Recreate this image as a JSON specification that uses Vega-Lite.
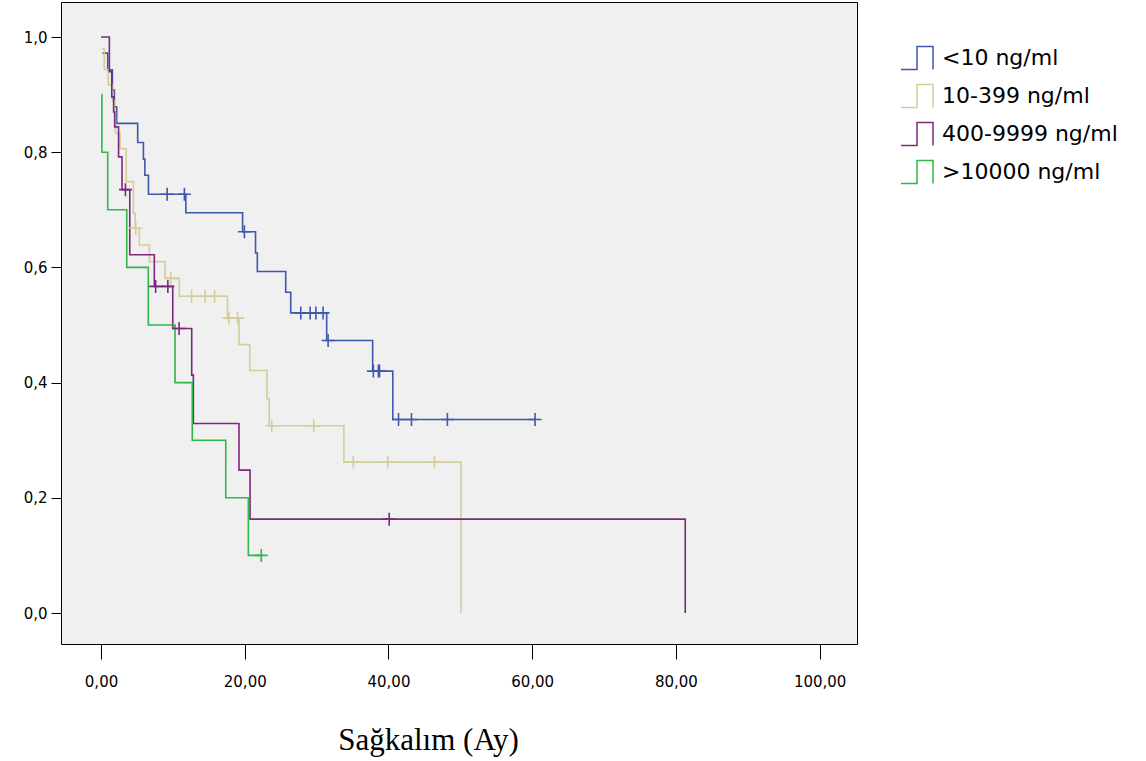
{
  "$schema": "https://vega.github.io/schema/vega-lite/v6.json",
  "width": 796,
  "height": 642,
  "autosize": {"type": "none"},
  "padding": {"left": 61, "top": 2, "right": 289, "bottom": 117},
  "background": "white",
  "config": {
    "view": {"fill": "#F0F0F0", "stroke": "#000000", "strokeWidth": 1},
    "axis": {"domain": false, "grid": false, "tickColor": "#000000", "labelColor": "#000000", "labelFont": "DejaVu Sans", "labelFontSize": 15, "tickWidth": 1}
  },
  "datasets": {
    "curves": [
      {"g": "<10 ng/ml", "t": 0.2, "s": 0.972},
      {"g": "<10 ng/ml", "t": 0.93, "s": 0.943},
      {"g": "<10 ng/ml", "t": 1.58, "s": 0.908},
      {"g": "<10 ng/ml", "t": 1.86, "s": 0.879},
      {"g": "<10 ng/ml", "t": 2.18, "s": 0.85},
      {"g": "<10 ng/ml", "t": 5.1, "s": 0.817},
      {"g": "<10 ng/ml", "t": 5.9, "s": 0.788},
      {"g": "<10 ng/ml", "t": 6.1, "s": 0.76},
      {"g": "<10 ng/ml", "t": 6.6, "s": 0.727},
      {"g": "<10 ng/ml", "t": 11.8, "s": 0.695},
      {"g": "<10 ng/ml", "t": 19.7, "s": 0.662},
      {"g": "<10 ng/ml", "t": 21.5, "s": 0.625},
      {"g": "<10 ng/ml", "t": 21.75, "s": 0.593},
      {"g": "<10 ng/ml", "t": 25.7, "s": 0.557},
      {"g": "<10 ng/ml", "t": 26.4, "s": 0.521},
      {"g": "<10 ng/ml", "t": 31.4, "s": 0.473},
      {"g": "<10 ng/ml", "t": 37.8, "s": 0.42},
      {"g": "<10 ng/ml", "t": 40.6, "s": 0.336},
      {"g": "<10 ng/ml", "t": 60.4, "s": 0.336},
      {"g": "10-399 ng/ml", "t": 0.1, "s": 0.98},
      {"g": "10-399 ng/ml", "t": 0.45, "s": 0.944},
      {"g": "10-399 ng/ml", "t": 1.0, "s": 0.917},
      {"g": "10-399 ng/ml", "t": 1.6, "s": 0.89},
      {"g": "10-399 ng/ml", "t": 1.85, "s": 0.868},
      {"g": "10-399 ng/ml", "t": 2.0, "s": 0.833},
      {"g": "10-399 ng/ml", "t": 2.64, "s": 0.806},
      {"g": "10-399 ng/ml", "t": 3.5, "s": 0.749},
      {"g": "10-399 ng/ml", "t": 4.5, "s": 0.694},
      {"g": "10-399 ng/ml", "t": 4.75, "s": 0.668},
      {"g": "10-399 ng/ml", "t": 5.33, "s": 0.639},
      {"g": "10-399 ng/ml", "t": 6.72, "s": 0.61},
      {"g": "10-399 ng/ml", "t": 8.9, "s": 0.581},
      {"g": "10-399 ng/ml", "t": 10.9, "s": 0.55},
      {"g": "10-399 ng/ml", "t": 17.6, "s": 0.512},
      {"g": "10-399 ng/ml", "t": 19.2, "s": 0.466},
      {"g": "10-399 ng/ml", "t": 20.7, "s": 0.421},
      {"g": "10-399 ng/ml", "t": 23.1, "s": 0.372},
      {"g": "10-399 ng/ml", "t": 23.4, "s": 0.325},
      {"g": "10-399 ng/ml", "t": 33.8, "s": 0.262},
      {"g": "10-399 ng/ml", "t": 50.1, "s": 0.0},
      {"g": "400-9999 ng/ml", "t": 0.0, "s": 1.0},
      {"g": "400-9999 ng/ml", "t": 1.16, "s": 0.94},
      {"g": "400-9999 ng/ml", "t": 1.49, "s": 0.896},
      {"g": "400-9999 ng/ml", "t": 1.75, "s": 0.87},
      {"g": "400-9999 ng/ml", "t": 1.9, "s": 0.844},
      {"g": "400-9999 ng/ml", "t": 2.44, "s": 0.792},
      {"g": "400-9999 ng/ml", "t": 2.92, "s": 0.735},
      {"g": "400-9999 ng/ml", "t": 4.0, "s": 0.622},
      {"g": "400-9999 ng/ml", "t": 7.42, "s": 0.567},
      {"g": "400-9999 ng/ml", "t": 9.98, "s": 0.494},
      {"g": "400-9999 ng/ml", "t": 12.62, "s": 0.413},
      {"g": "400-9999 ng/ml", "t": 12.85, "s": 0.329},
      {"g": "400-9999 ng/ml", "t": 19.2, "s": 0.248},
      {"g": "400-9999 ng/ml", "t": 20.74, "s": 0.163},
      {"g": "400-9999 ng/ml", "t": 81.3, "s": 0.0},
      {"g": ">10000 ng/ml", "t": 0.05, "s": 0.9},
      {"g": ">10000 ng/ml", "t": 0.12, "s": 0.8},
      {"g": ">10000 ng/ml", "t": 0.93, "s": 0.7},
      {"g": ">10000 ng/ml", "t": 3.58, "s": 0.6},
      {"g": ">10000 ng/ml", "t": 6.58, "s": 0.5},
      {"g": ">10000 ng/ml", "t": 10.3, "s": 0.4},
      {"g": ">10000 ng/ml", "t": 12.7, "s": 0.3},
      {"g": ">10000 ng/ml", "t": 17.36, "s": 0.2},
      {"g": ">10000 ng/ml", "t": 20.5, "s": 0.1},
      {"g": ">10000 ng/ml", "t": 22.3, "s": 0.1}
    ],
    "censored": [
      {"g": "<10 ng/ml", "t": 9.2, "s": 0.727},
      {"g": "<10 ng/ml", "t": 11.6, "s": 0.727},
      {"g": "<10 ng/ml", "t": 19.95, "s": 0.662},
      {"g": "<10 ng/ml", "t": 27.8, "s": 0.521},
      {"g": "<10 ng/ml", "t": 29.1, "s": 0.521},
      {"g": "<10 ng/ml", "t": 29.9, "s": 0.521},
      {"g": "<10 ng/ml", "t": 30.9, "s": 0.521},
      {"g": "<10 ng/ml", "t": 31.6, "s": 0.473},
      {"g": "<10 ng/ml", "t": 37.9, "s": 0.42},
      {"g": "<10 ng/ml", "t": 38.6, "s": 0.42},
      {"g": "<10 ng/ml", "t": 38.75, "s": 0.42},
      {"g": "<10 ng/ml", "t": 41.4, "s": 0.336},
      {"g": "<10 ng/ml", "t": 43.2, "s": 0.336},
      {"g": "<10 ng/ml", "t": 48.2, "s": 0.336},
      {"g": "<10 ng/ml", "t": 60.4, "s": 0.336},
      {"g": "10-399 ng/ml", "t": 4.83, "s": 0.668},
      {"g": "10-399 ng/ml", "t": 9.7, "s": 0.581},
      {"g": "10-399 ng/ml", "t": 12.6, "s": 0.55},
      {"g": "10-399 ng/ml", "t": 14.5, "s": 0.55},
      {"g": "10-399 ng/ml", "t": 15.8, "s": 0.55},
      {"g": "10-399 ng/ml", "t": 17.8, "s": 0.512},
      {"g": "10-399 ng/ml", "t": 19.0, "s": 0.512},
      {"g": "10-399 ng/ml", "t": 23.75, "s": 0.325},
      {"g": "10-399 ng/ml", "t": 29.6, "s": 0.325},
      {"g": "10-399 ng/ml", "t": 35.1, "s": 0.262},
      {"g": "10-399 ng/ml", "t": 39.9, "s": 0.262},
      {"g": "10-399 ng/ml", "t": 46.4, "s": 0.262},
      {"g": "400-9999 ng/ml", "t": 3.4, "s": 0.735},
      {"g": "400-9999 ng/ml", "t": 7.6, "s": 0.567},
      {"g": "400-9999 ng/ml", "t": 9.3, "s": 0.567},
      {"g": "400-9999 ng/ml", "t": 10.86, "s": 0.494},
      {"g": "400-9999 ng/ml", "t": 40.1, "s": 0.163},
      {"g": ">10000 ng/ml", "t": 22.3, "s": 0.1}
    ]
  },
  "layer": [
    {
      "data": {"name": "curves"},
      "mark": {"type": "line", "interpolate": "step-after", "strokeWidth": 1.6},
      "encoding": {
        "x": {
          "field": "t", "type": "quantitative",
          "scale": {"domain": [-5.57, 105.2], "nice": false, "zero": false},
          "axis": {
            "values": [0, 20, 40, 60, 80, 100],
            "labelExpr": "replace(format(datum.value, '.2f'), '.', ',')",
            "tickSize": 15, "labelPadding": 15,
            "title": "Sağkalım (Ay)",
            "titleFont": "Liberation Serif", "titleFontSize": 31, "titleFontWeight": "normal", "titleColor": "#000000",
            "titleX": 367, "titleY": 96, "titleAlign": "center", "titleBaseline": "middle", "titleAnchor": null
          }
        },
        "y": {
          "field": "s", "type": "quantitative",
          "scale": {"domain": [-0.0538, 1.0608], "nice": false, "zero": false},
          "axis": {
            "values": [0, 0.2, 0.4, 0.6, 0.8, 1.0],
            "labelExpr": "replace(format(datum.value, '.1f'), '.', ',')",
            "tickSize": 10, "labelPadding": 4, "title": null
          }
        },
        "color": {
          "field": "g", "type": "nominal",
          "scale": {"domain": ["<10 ng/ml", "10-399 ng/ml", "400-9999 ng/ml", ">10000 ng/ml"], "range": ["#3E58AC", "#D3CE97", "#7C287D", "#2EB848"]},
          "legend": {
            "orient": "none", "legendX": 839, "legendY": 39, "title": null,
            "symbolType": "M-1,0.72H0V-0.72H1V0.72", "symbolSize": 1024, "symbolStrokeWidth": 1.5,
            "symbolFillColor": "transparent",
            "labelFont": "DejaVu Sans", "labelFontSize": 22, "labelColor": "#000000",
            "labelOffset": 8, "rowPadding": 6, "padding": 0, "labelLimit": 300
          }
        }
      }
    },
    {
      "data": {"name": "censored"},
      "mark": {"type": "point", "shape": "M-1,0H1M0,-1V1", "filled": false, "size": 169, "strokeWidth": 1.6, "opacity": 1},
      "encoding": {
        "x": {"field": "t", "type": "quantitative"},
        "y": {"field": "s", "type": "quantitative"},
        "stroke": {
          "field": "g", "type": "nominal",
          "scale": {"domain": ["<10 ng/ml", "10-399 ng/ml", "400-9999 ng/ml", ">10000 ng/ml"], "range": ["#3E58AC", "#D3CE97", "#7C287D", "#2EB848"]},
          "legend": null
        }
      }
    }
  ]
}
